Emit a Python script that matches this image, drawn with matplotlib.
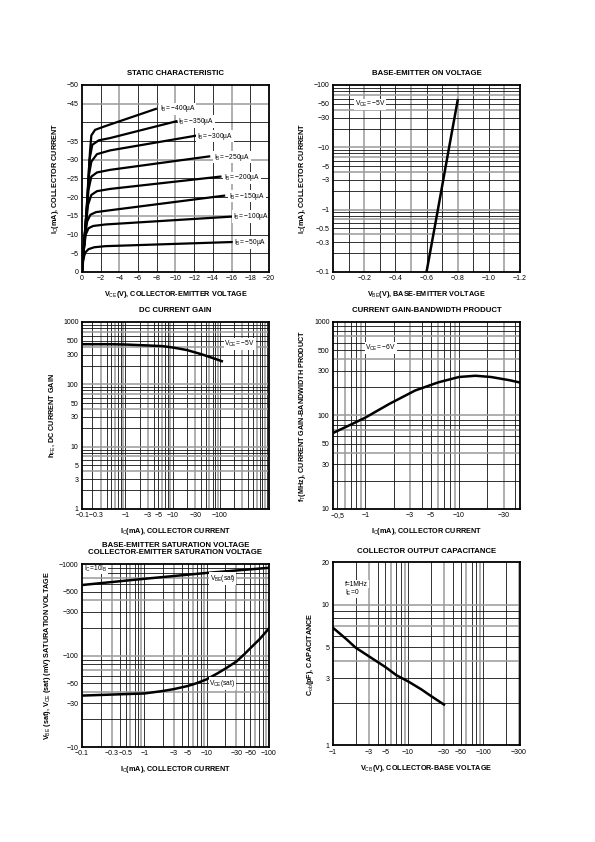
import numpy as np
import matplotlib.pyplot as plt

plt.rcParams['font.family'] = ['Liberation Sans', 'DejaVu Sans']
plt.rcParams['mathtext.fontset'] = 'custom'
plt.rcParams['mathtext.rm'] = 'Liberation Sans'
plt.rcParams['mathtext.it'] = 'Liberation Sans'
plt.rcParams['mathtext.bf'] = 'Liberation Sans:bold'

M = '\u2212'

# ---------------- data (magnitudes) ----------------
# static characteristic: Vce (V), Ic (mA) per base current
ib_labels = ['400', '350', '300', '250', '200', '150', '100', '50']
vce_400 = [0, 0.55, 0.85, 1.0, 1.4, 2.5, 7.9]
ic_400 = [0, 18, 32, 36.5, 38, 39, 43.6]
vce_350 = [0, 0.5, 0.8, 1.1, 1.8, 3, 10.1]
ic_350 = [0, 17, 30, 34, 35.2, 35.8, 40.3]
vce_300 = [0, 0.45, 0.75, 1.0, 1.6, 3, 12.1]
ic_300 = [0, 15, 26, 29.5, 31.5, 32.5, 36.4]
vce_250 = [0, 0.4, 0.7, 1.0, 1.6, 3, 13.6]
ic_250 = [0, 13, 22, 25.5, 26.6, 27.3, 30.9]
vce_200 = [0, 0.35, 0.65, 1.0, 1.6, 3, 14.8]
ic_200 = [0, 11, 18, 20.6, 21.6, 22.2, 25.5]
vce_150 = [0, 0.3, 0.55, 0.9, 1.5, 3, 15.2]
ic_150 = [0, 9, 13.5, 15.3, 16, 16.5, 20.4]
vce_100 = [0, 0.2, 0.4, 0.7, 1.2, 2.5, 16]
ic_100 = [0, 6, 10, 11.7, 12.3, 12.7, 14.8]
vce_50 = [0, 0.15, 0.35, 0.7, 1.3, 2.5, 16]
ic_50 = [0, 3.5, 5.2, 6.1, 6.6, 6.9, 8.0]
ib_label_x = [8.3, 10.3, 12.3, 14.1, 15.2, 15.7, 16.1, 16.3]
ib_label_y = [43.6, 40.2, 36.3, 30.7, 25.2, 20.3, 14.8, 7.9]

# base-emitter on voltage
vbe_on = [0.60, 0.673, 0.745, 0.80]
ic_on = [0.1, 1, 10, 57]

# dc current gain
ic_hfe = [0.12, 0.5, 1, 3, 6, 10, 20, 40, 70, 110]
hfe = [440, 440, 435, 420, 410, 390, 355, 305, 265, 235]

# gain-bandwidth product
ic_ft = [0.45, 0.7, 1.0, 1.8, 3.4, 6, 10, 15, 22, 35, 45]
ft = [65, 80, 95, 133, 185, 226, 258, 266, 258, 238, 225]

# saturation voltages
ic_sat = [0.1, 1, 10, 100]
vbe_sat = [590, 690, 800, 910]
ic_cesat = [0.1, 1, 2, 3, 5, 7, 10, 15, 20, 30, 40, 50, 70, 100]
vce_sat = [36.5, 38.5, 41, 43, 46.5, 50, 55, 64, 72, 86, 103, 120, 150, 198]

# output capacitance
vcb = [1, 1.5, 2, 3, 5, 7, 10, 15, 20, 30]
cob = [6.85, 5.7, 4.95, 4.3, 3.6, 3.15, 2.85, 2.5, 2.25, 1.95]


def log_lines(lo, hi):
    out = []
    for k in range(-2, 4):
        for n in range(1, 10):
            v = n * 10.0 ** k
            if lo * 0.999 <= v <= hi * 1.001:
                out.append(v)
    return out


def draw_grid(ax, xs, ys):
    for i, v in enumerate(xs):
        if i % 3 == 1:
            ax.axvline(v, color='#9a9a9a', lw=1.1, zorder=1)
        else:
            ax.axvline(v, color='#111111', lw=0.6, zorder=1)
    for i, v in enumerate(ys):
        if i % 3 == 2:
            ax.axhline(v, color='#9a9a9a', lw=1.1, zorder=1)
        else:
            ax.axhline(v, color='#111111', lw=0.6, zorder=1)


def setup(ax, title, xlabel, ylabel):
    for s in ax.spines.values():
        s.set_linewidth(1.3)
        s.set_zorder(5)
    ax.tick_params(which='both', length=0, labelsize=5, pad=2.5)
    ax.minorticks_off()
    ax.set_title(title, fontsize=5.6, fontweight='bold', pad=7)
    ax.set_xlabel(xlabel, fontsize=5.2, fontweight='bold', labelpad=5)
    ax.set_ylabel(ylabel, fontsize=5.2, fontweight='bold', labelpad=4)


def note(ax, x, y, s, **kw):
    ax.text(x, y, s, fontsize=4.8, ha='left', va='center', zorder=4,
            bbox=dict(fc='white', ec='none', pad=0.5), **kw)


fig = plt.figure(figsize=(5.95, 8.42), dpi=100)
lefts = [0.1378, 0.5597]
w = 0.3143
rows = [(0.6770, 0.2221), (0.3955, 0.2221), (0.1128, 0.2173)]

# ---- static characteristic ----
ax = fig.add_axes([lefts[0], rows[0][0], w, rows[0][1]])
ax.set_xlim(0, 20)
ax.set_ylim(0, 50)
draw_grid(ax, np.arange(2, 20, 2), np.arange(5, 50, 5))
curves = [(vce_400, ic_400), (vce_350, ic_350), (vce_300, ic_300), (vce_250, ic_250),
          (vce_200, ic_200), (vce_150, ic_150), (vce_100, ic_100), (vce_50, ic_50)]
for (xv, yv), lab, lx, ly in zip(curves, ib_labels, ib_label_x, ib_label_y):
    ax.plot(xv, yv, color='black', lw=1.6, zorder=3)
    note(ax, lx, ly, r'I$_B$= ' + M + lab + '\u00b5A')
xt = list(range(0, 21, 2))
ax.set_xticks(xt, ['0'] + [M + str(v) for v in xt[1:]])
yt = [0, 5, 10, 15, 20, 25, 30, 35, 45, 50]
ax.set_yticks(yt, ['0'] + [M + str(v) for v in yt[1:]])
setup(ax, 'STATIC CHARACTERISTIC', r'V$_{CE}$(V), COLLECTOR-EMITTER VOLTAGE',
      r'I$_C$(mA), COLLECTOR CURRENT')

# ---- base-emitter on voltage ----
ax = fig.add_axes([lefts[1], rows[0][0], w, rows[0][1]])
ax.set_yscale('log')
ax.set_xlim(0, 1.2)
ax.set_ylim(0.1, 100)
draw_grid(ax, np.arange(0.1, 1.2, 0.1), log_lines(0.2, 90))
ax.plot(vbe_on, ic_on, color='black', lw=1.8, zorder=3)
note(ax, 0.14, 49, r'V$_{CE}$= ' + M + '5V')
xt = [0, 0.2, 0.4, 0.6, 0.8, 1.0, 1.2]
ax.set_xticks(xt, ['0'] + [M + '%.1f' % v for v in xt[1:]])
yt = [0.1, 0.3, 0.5, 1, 3, 5, 10, 30, 50, 100]
ax.set_yticks(yt, [M + ('%g' % v) for v in yt])
setup(ax, 'BASE-EMITTER ON VOLTAGE', r'V$_{BE}$(V), BASE-EMITTER VOLTAGE',
      r'I$_C$(mA), COLLECTOR CURRENT')

# ---- dc current gain ----
ax = fig.add_axes([lefts[0], rows[1][0], w, rows[1][1]])
ax.set_xscale('log')
ax.set_yscale('log')
ax.set_xlim(0.12, 1100)
ax.set_ylim(1, 1000)
draw_grid(ax, log_lines(0.13, 1000), log_lines(2, 900))
ax.plot(ic_hfe, hfe, color='black', lw=1.8, zorder=3)
note(ax, 125, 440, r'V$_{CE}$= ' + M + '5V')
ax.set_xticks([0.175, 1, 3, 5, 10, 30, 100],
              [M + '0.1' + M + '0.3', M + '1', M + '3', M + '5', M + '10', M + '30', M + '100'])
yt = [1, 3, 5, 10, 30, 50, 100, 300, 500, 1000]
ax.set_yticks(yt, ['%g' % v for v in yt])
setup(ax, 'DC CURRENT GAIN', r'I$_C$(mA), COLLECTOR CURRENT',
      r'h$_{FE}$, DC CURRENT GAIN')

# ---- gain-bandwidth product ----
ax = fig.add_axes([lefts[1], rows[1][0], w, rows[1][1]])
ax.set_xscale('log')
ax.set_yscale('log')
ax.set_xlim(0.45, 45)
ax.set_ylim(10, 1000)
draw_grid(ax, log_lines(0.5, 40), log_lines(20, 900))
ax.plot(ic_ft, ft, color='black', lw=1.8, zorder=3)
note(ax, 1.0, 526, r'V$_{CE}$= ' + M + '6V')
ax.set_xticks([0.5, 1, 3, 5, 10, 30], [M + '0,5', M + '1', M + '3', M + '5', M + '10', M + '30'])
yt = [10, 30, 50, 100, 300, 500, 1000]
ax.set_yticks(yt, ['%g' % v for v in yt])
setup(ax, 'CURRENT GAIN-BANDWIDTH PRODUCT', r'I$_C$(mA), COLLECTOR CURRENT',
      r'f$_T$(MHz), CURRENT GAIN-BANDWIDTH PRODUCT')

# ---- saturation voltages ----
ax = fig.add_axes([lefts[0], rows[2][0], w, rows[2][1]])
ax.set_xscale('log')
ax.set_yscale('log')
ax.set_xlim(0.1, 100)
ax.set_ylim(10, 1000)
draw_grid(ax, log_lines(0.2, 90), log_lines(20, 900))
ax.plot(ic_sat, vbe_sat, color='black', lw=1.8, zorder=3)
ax.plot(ic_cesat, vce_sat, color='black', lw=1.8, zorder=3)
note(ax, 0.108, 895, r'I$_C$=10I$_B$')
note(ax, 11.2, 697, r'V$_{BE}$(sat)')
note(ax, 11, 49.5, r'V$_{CE}$(sat)')
xt = [0.1, 0.3, 0.5, 1, 3, 5, 10, 30, 50, 100]
ax.set_xticks(xt, [M + ('%g' % v) for v in xt])
yt = [10, 30, 50, 100, 300, 500, 1000]
ax.set_yticks(yt, [M + ('%g' % v) for v in yt])
setup(ax, 'BASE-EMITTER SATURATION VOLTAGE\nCOLLECTOR-EMITTER SATURATION VOLTAGE',
      r'I$_C$(mA), COLLECTOR CURRENT',
      r'V$_{BE}$ (sat), V$_{CE}$ (sat) (mV) SATURATION VOLTAGE')
ax.title.set_linespacing(1.0)

# ---- output capacitance ----
ax = fig.add_axes([lefts[1], rows[2][0] + 0.002, w, rows[2][1]])
ax.set_xscale('log')
ax.set_yscale('log')
ax.set_xlim(1, 310)
ax.set_ylim(1, 20)
draw_grid(ax, log_lines(2, 300), log_lines(2, 10))
ax.plot(vcb, cob, color='black', lw=1.8, zorder=3)
note(ax, 1.45, 14.0, 'f=1MHz')
note(ax, 1.45, 12.2, r'I$_E$=0')
xt = [1, 3, 5, 10, 30, 50, 100, 300]
ax.set_xticks(xt, [M + ('%g' % v) for v in xt])
yt = [1, 3, 5, 10, 20]
ax.set_yticks(yt, ['%g' % v for v in yt])
setup(ax, 'COLLECTOR OUTPUT CAPACITANCE', r'V$_{CB}$(V), COLLECTOR-BASE VOLTAGE',
      r'C$_{ob}$(pF), CAPACITANCE')

fig.savefig('out.png', dpi=100)
